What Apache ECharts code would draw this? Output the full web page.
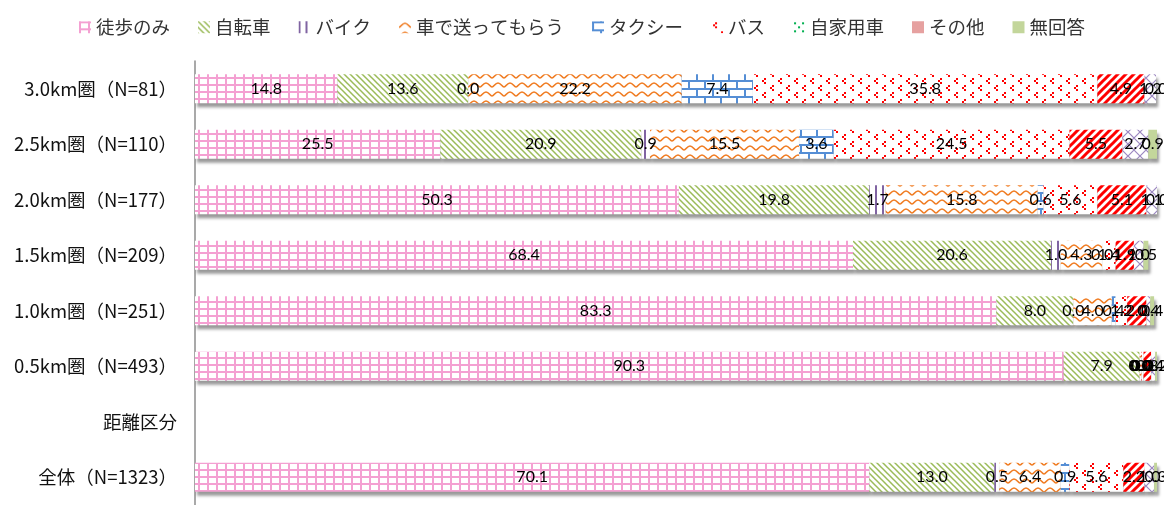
<!DOCTYPE html>
<html>
<head>
<meta charset="utf-8">
<script src="https://cdn.jsdelivr.net/npm/echarts@6/dist/echarts.min.js"></script>
<style>
	html, body { margin:0; padding:0; background:#fff; }
	#chart { width:1164px; height:505px; }
</style>
</head>
<body>
<div id="chart"></div>
<script>
//------------------------数据-开始------------------//
var categories = ['3.0km圏（N=81）','2.5km圏（N=110）','2.0km圏（N=177）','1.5km圏（N=209）','1.0km圏（N=251）','0.5km圏（N=493）','距離区分','全体（N=1323）'];
var legendNames = ['徒歩のみ','自転車','バイク','車で送ってもらう','タクシー','バス','自家用車','その他','無回答'];

var toho     = [14.8, 25.5, 50.3, 68.4, 83.3, 90.3, '-', 70.1];
var jitensha = [13.6, 20.9, 19.8, 20.6,  8.0,  7.9, '-', 13.0];
var baiku    = [ 0.0,  0.9,  1.7,  1.0,  0.0,  0.0, '-',  0.5];
var okuri    = [22.2, 15.5, 15.8,  4.3,  4.0,  0.2, '-',  6.4];
var takushi  = [ 7.4,  3.6,  0.6,  0.0,  0.4,  0.0, '-',  0.9];
var basu     = [35.8, 24.5,  5.6,  1.4,  1.2,  0.2, '-',  5.6];
var jikayo   = [ 0.0,  0.0,  0.0,  0.0,  0.0,  0.0, '-',  0.0];
var sonota   = [ 4.9,  5.5,  5.1,  1.9,  2.0,  0.8, '-',  2.2];
var fumei    = [ 1.2,  2.7,  1.1,  1.0,  0.4,  0.4, '-',  1.0];
var mukaito  = [ 0.0,  0.9,  0.0,  0.5,  0.4,  0.2, '-',  0.3];
//------------------------数据-结束------------------//

(function(baseInfo){

	//------------------------方法定义-开始------------------//
	function tile(w, h, draw)
	{
		var c = document.createElement('canvas');
		c.width = w;
		c.height = h;
		var ctx = c.getContext('2d');
		ctx.fillStyle = '#fff';
		ctx.fillRect(0, 0, w, h);
		draw(ctx);
		return { image: c, repeat: 'repeat' };
	}

	function patterns()
	{
		return {
			toho: tile(9, 7, function(ctx){
				ctx.fillStyle = '#f4a0d2';
				ctx.fillRect(0, 0, 2, 7);
				ctx.fillRect(0, 0, 9, 2);
			}),
			jitensha: tile(6, 6, function(ctx){
				ctx.strokeStyle = '#9bbb59';
				ctx.lineWidth = 1.5;
				ctx.beginPath();
				ctx.moveTo(-1, -1); ctx.lineTo(7, 7);
				ctx.moveTo(-1, 5); ctx.lineTo(1, 7);
				ctx.moveTo(5, -1); ctx.lineTo(7, 1);
				ctx.stroke();
			}),
			baiku: tile(7, 4, function(ctx){
				ctx.fillStyle = '#8064a2';
				ctx.fillRect(0, 0, 2, 4);
			}),
			okuri: tile(12, 9, function(ctx){
				ctx.strokeStyle = '#f07c22';
				ctx.lineWidth = 1.6;
				ctx.beginPath();
				ctx.moveTo(0, 6);
				ctx.bezierCurveTo(2, 6, 3, 2, 6, 2);
				ctx.bezierCurveTo(9, 2, 10, 6, 12, 6);
				ctx.stroke();
			}),
			takushi: tile(16, 16, function(ctx){
				ctx.fillStyle = '#558ed5';
				ctx.fillRect(0, 0, 16, 2);
				ctx.fillRect(0, 8, 16, 2);
				ctx.fillRect(0, 0, 2, 8);
				ctx.fillRect(8, 8, 2, 8);
			}),
			basu: tile(16, 14, function(ctx){
				ctx.fillStyle = '#ff0000';
				ctx.fillRect(4, 1, 2, 2);
				ctx.fillRect(2, 3, 2, 2);
				ctx.fillRect(4, 5, 2, 2);
				ctx.fillRect(12, 8, 2, 2);
				ctx.fillRect(10, 10, 2, 2);
				ctx.fillRect(12, 12, 2, 2);
			}),
			jikayo: tile(8, 8, function(ctx){
				ctx.fillStyle = '#00b050';
				ctx.fillRect(1, 1, 2, 2);
				ctx.fillRect(5, 5, 2, 2);
			}),
			sonota: tile(8, 8, function(ctx){
				ctx.strokeStyle = '#ff0000';
				ctx.lineWidth = 3;
				ctx.beginPath();
				ctx.moveTo(-2, 10); ctx.lineTo(10, -2);
				ctx.moveTo(-6, 6); ctx.lineTo(6, -6);
				ctx.moveTo(2, 14); ctx.lineTo(14, 2);
				ctx.stroke();
			}),
			fumei: tile(12, 12, function(ctx){
				ctx.strokeStyle = '#9b87c0';
				ctx.lineWidth = 1.2;
				ctx.beginPath();
				ctx.moveTo(0, 0); ctx.lineTo(12, 12);
				ctx.moveTo(12, 0); ctx.lineTo(0, 12);
				ctx.stroke();
			}),
			mukaito: '#c3d69b'
		};
	}

	function makeSeries(name, data, color, hideZero)
	{
		return {
			name: name,
			type: 'bar',
			stack: 'total',
			barWidth: 29,
			data: data,
			itemStyle: {
				color: color,
				shadowColor: 'rgba(0,0,0,0.4)',
				shadowBlur: 3,
				shadowOffsetX: 2,
				shadowOffsetY: 4
			},
			label: {
				show: true,
				position: 'inside',
				color: '#000',
				fontSize: 16,
				fontFamily: 'Lato',
				formatter: function(p){
					if (hideZero && p.value === 0) return '';
					return Number(p.value).toFixed(1);
				}
			}
		};
	}

	function chartBar()
	{
		var pt = patterns();
		var option = {
			animation: false,
			legend: {
				top: 13,
				left: 'center',
				itemWidth: 12,
				itemHeight: 12,
				itemGap: 28,
				icon: 'rect',
				textStyle: { fontSize: 18.5, color: '#333', fontFamily: 'Noto Sans CJK JP' },
				data: [
					'徒歩のみ','自転車','バイク','車で送ってもらう','タクシー','バス','自家用車',
					{ name: 'その他', itemStyle: { color: '#e6a1a0' } },
					{ name: '無回答', itemStyle: { color: '#c3d69b' } }
				]
			},
			grid: { left: 195, top: 61, width: 962, height: 459 },
			xAxis: { type: 'value', min: 0, max: 100, show: false },
			yAxis: {
				type: 'category',
				inverse: true,
				data: categories,
				axisTick: { show: false },
				axisLine: { lineStyle: { color: '#8c8c8c', width: 1.5 } },
				axisLabel: { fontSize: 18.5, color: '#111', margin: 18, fontFamily: 'Noto Sans CJK JP' }
			},
			series: [
				makeSeries(legendNames[0], toho, pt.toho),
				makeSeries(legendNames[1], jitensha, pt.jitensha),
				makeSeries(legendNames[2], baiku, pt.baiku),
				makeSeries(legendNames[3], okuri, pt.okuri),
				makeSeries(legendNames[4], takushi, pt.takushi),
				makeSeries(legendNames[5], basu, pt.basu),
				makeSeries(legendNames[6], jikayo, pt.jikayo, true),
				makeSeries(legendNames[7], sonota, pt.sonota),
				makeSeries('不明', fumei, pt.fumei),
				makeSeries(legendNames[8], mukaito, pt.mukaito)
			]
		};
		var myChart = echarts.init(document.getElementById(baseInfo.chartId));
		myChart.setOption(option);
	}
	//------------------------方法定义-结束------------------//

	chartBar();
})({
	"chartId":"chart"
});
</script>
</body>
</html>
